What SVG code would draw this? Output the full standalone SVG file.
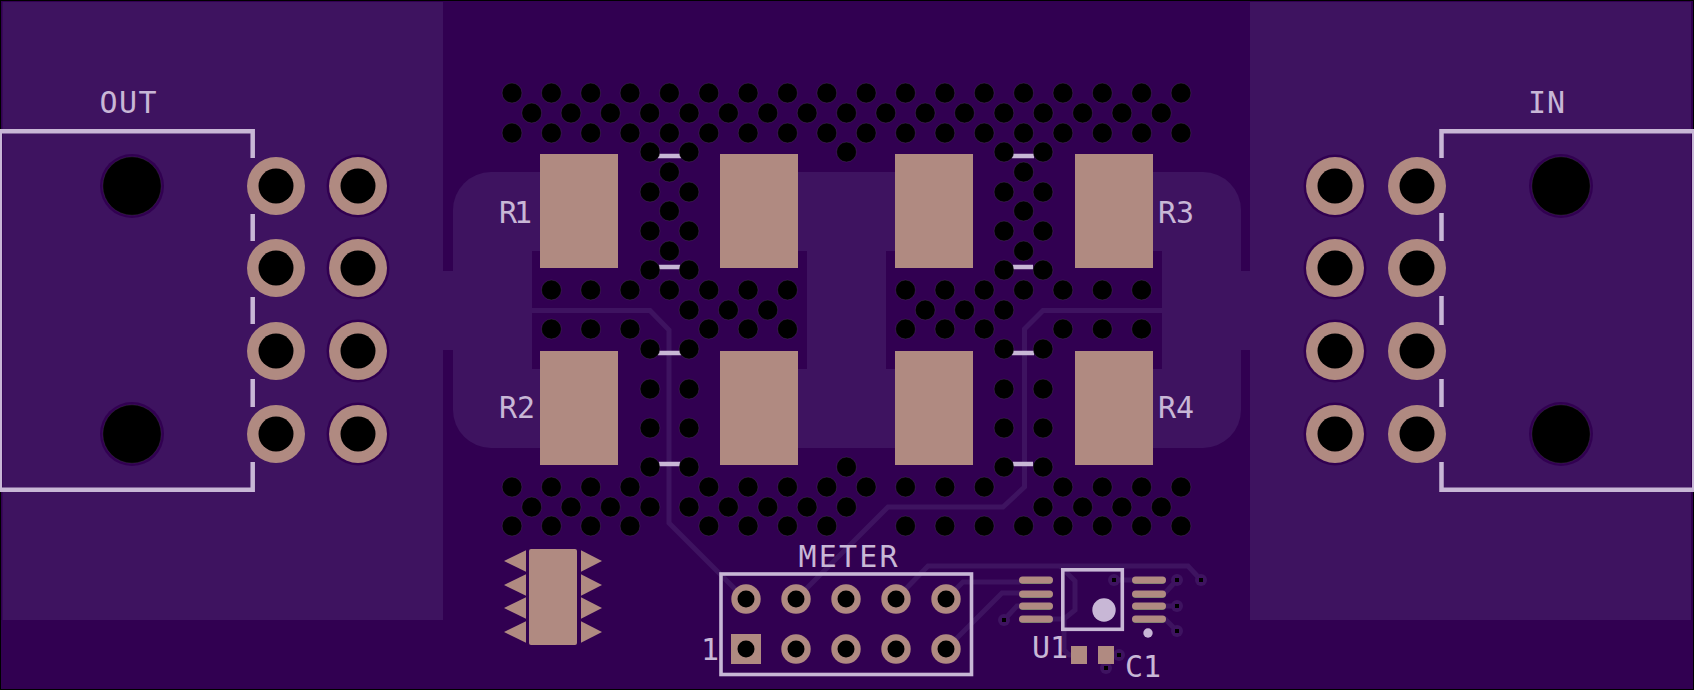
<svg xmlns="http://www.w3.org/2000/svg" width="1694" height="690" viewBox="0 0 1694 690">
<style>
.sub{fill:#310051}
.cu{fill:#3e1360}
.pad{fill:#b08a81}
.trk{fill:none;stroke:#3e1360;stroke-width:5;stroke-linejoin:miter}
.silk{fill:none;stroke:#c8b7d6;stroke-width:4.5;stroke-linecap:butt}
.fill{fill:#c8b7d6}
.hole{fill:#000}
.lbl{font-family:"DejaVu Sans Mono","Liberation Mono",monospace;font-size:30px;fill:#c8b7d6}
.vh{fill:#000;stroke:#6b5a74;stroke-width:.25}
</style>
<defs>
<circle id="v" class="vh" r="9.9"/>
<g id="tv"><circle class="cu" r="6"/><rect x="-2" y="-2" width="4" height="4" fill="#000"/></g>
<g id="th"><circle class="pad" r="29"/><circle class="hole" r="17.5"/></g>
<g id="tr"><circle class="sub" r="31.5"/><circle class="pad" r="29"/><circle class="hole" r="17.5"/></g>
<g id="mh"><circle class="sub" r="32"/><circle class="vh" r="29.2"/></g>
<g id="pin"><circle class="pad" r="14.7"/><circle class="hole" r="8.5"/></g>
<path id="tl" class="pad" d="M504 0L526 -10.7V10.7Z"/>
<path id="tri" class="pad" d="M602 0L581 -10.7V10.7Z"/>
<g id="sop"><rect x="0.5" y="-2.6" width="33" height="6.6" rx="3.2" fill="#5c7a62"/><rect x="0" y="-3.6" width="34" height="7.1" rx="3.5" class="pad"/></g>
</defs>

<g id="board">
<rect width="1694" height="690" fill="#000"/>
<rect x="1" y="1" width="1692" height="688" class="sub"/>
<rect x="2.5" y="2" width="440.5" height="618" class="cu"/>
<rect x="1250" y="2" width="441" height="618" class="cu"/>
<rect x="443" y="271" width="10" height="79" class="cu"/>
<rect x="1241" y="271" width="9" height="79" class="cu"/>
<rect x="453" y="172" width="788" height="276" rx="38" class="cu"/>
<rect x="618" y="172" width="102" height="276" class="sub"/>
<rect x="973" y="172" width="102" height="276" class="sub"/>
<rect x="532" y="251" width="275" height="118" class="sub"/>
<rect x="886" y="251" width="276" height="118" class="sub"/>
</g>

<g id="connectors">
<path class="trk" d="M532 310.5H650L669 330V523L745 599"/>
<path class="trk" d="M1162 310.5H1043L1024.5 329V487L1003 507H888L796 599"/>
<path class="trk" d="M896 599L928 566H1188L1201 580"/>
<path class="trk" d="M946 599L963 582H1020"/>
<path class="trk" d="M946 649L1002 593H1020"/>
<path class="trk" d="M1004 620L1017 606H1024"/>
<path class="trk" d="M1050 619H1064L1075 610V581L1060 566"/>
<path class="trk" d="M1064 619V650L1069 655H1075"/>
<path class="trk" d="M1114 580H1135"/>
<path class="trk" d="M1160 594H1164L1177 580"/>
<path class="trk" d="M1160 606H1177"/>
<path class="trk" d="M1160 619H1165L1177 631"/>
</g>

<g id="silk-lines">
<path class="silk" d="M658 156H681M659 267H680M658 353H681M659 464H680M1012 156H1034M1013 267H1033M1012 353H1034M1013 464H1033"/>
</g>

<g id="via-field">
<use href="#v" x="512" y="93"/><use href="#v" x="551.4" y="93"/><use href="#v" x="590.7" y="93"/><use href="#v" x="630" y="93"/><use href="#v" x="669.4" y="93"/><use href="#v" x="708.8" y="93"/><use href="#v" x="748.1" y="93"/><use href="#v" x="787.5" y="93"/><use href="#v" x="826.8" y="93"/><use href="#v" x="866.2" y="93"/><use href="#v" x="905.5" y="93"/><use href="#v" x="944.9" y="93"/><use href="#v" x="984.2" y="93"/><use href="#v" x="1023.6" y="93"/><use href="#v" x="1062.9" y="93"/><use href="#v" x="1102.3" y="93"/><use href="#v" x="1141.6" y="93"/><use href="#v" x="1181" y="93"/>
<use href="#v" x="531.7" y="113"/><use href="#v" x="571" y="113"/><use href="#v" x="610.4" y="113"/><use href="#v" x="649.7" y="113"/><use href="#v" x="689.1" y="113"/><use href="#v" x="728.4" y="113"/><use href="#v" x="767.8" y="113"/><use href="#v" x="807.1" y="113"/><use href="#v" x="846.5" y="113"/><use href="#v" x="885.8" y="113"/><use href="#v" x="925.2" y="113"/><use href="#v" x="964.5" y="113"/><use href="#v" x="1003.9" y="113"/><use href="#v" x="1043.2" y="113"/><use href="#v" x="1082.6" y="113"/><use href="#v" x="1121.9" y="113"/><use href="#v" x="1161.3" y="113"/>
<use href="#v" x="512" y="133"/><use href="#v" x="551.4" y="133"/><use href="#v" x="590.7" y="133"/><use href="#v" x="630" y="133"/><use href="#v" x="669.4" y="133"/><use href="#v" x="708.8" y="133"/><use href="#v" x="748.1" y="133"/><use href="#v" x="787.5" y="133"/><use href="#v" x="826.8" y="133"/><use href="#v" x="866.2" y="133"/><use href="#v" x="905.5" y="133"/><use href="#v" x="944.9" y="133"/><use href="#v" x="984.2" y="133"/><use href="#v" x="1023.6" y="133"/><use href="#v" x="1062.9" y="133"/><use href="#v" x="1102.3" y="133"/><use href="#v" x="1141.6" y="133"/><use href="#v" x="1181" y="133"/>
<use href="#v" x="650" y="152"/><use href="#v" x="689" y="152"/><use href="#v" x="846.5" y="152"/><use href="#v" x="1004" y="152"/><use href="#v" x="1043" y="152"/>
<use href="#v" x="669.4" y="172"/><use href="#v" x="1023.6" y="172"/>
<use href="#v" x="650" y="192"/><use href="#v" x="689" y="192"/><use href="#v" x="1004" y="192"/><use href="#v" x="1043" y="192"/>
<use href="#v" x="669.4" y="211"/><use href="#v" x="1023.6" y="211"/>
<use href="#v" x="650" y="231"/><use href="#v" x="689" y="231"/><use href="#v" x="1004" y="231"/><use href="#v" x="1043" y="231"/>
<use href="#v" x="669.4" y="251"/><use href="#v" x="1023.6" y="251"/>
<use href="#v" x="650" y="270"/><use href="#v" x="689" y="270"/><use href="#v" x="1004" y="270"/><use href="#v" x="1043" y="270"/>
<use href="#v" x="551.4" y="290"/><use href="#v" x="590.7" y="290"/><use href="#v" x="630" y="290"/><use href="#v" x="669.4" y="290"/><use href="#v" x="708.8" y="290"/><use href="#v" x="748.1" y="290"/><use href="#v" x="787.5" y="290"/><use href="#v" x="905.5" y="290"/><use href="#v" x="944.9" y="290"/><use href="#v" x="984.2" y="290"/><use href="#v" x="1023.6" y="290"/><use href="#v" x="1062.9" y="290"/><use href="#v" x="1102.3" y="290"/><use href="#v" x="1141.6" y="290"/>
<use href="#v" x="689" y="310"/><use href="#v" x="728.4" y="310"/><use href="#v" x="767.8" y="310"/><use href="#v" x="925.2" y="310"/><use href="#v" x="964.5" y="310"/><use href="#v" x="1003.9" y="310"/>
<use href="#v" x="551.4" y="329"/><use href="#v" x="590.7" y="329"/><use href="#v" x="630" y="329"/><use href="#v" x="708.8" y="329"/><use href="#v" x="748.1" y="329"/><use href="#v" x="787.5" y="329"/><use href="#v" x="905.5" y="329"/><use href="#v" x="944.9" y="329"/><use href="#v" x="984.2" y="329"/><use href="#v" x="1062.9" y="329"/><use href="#v" x="1102.3" y="329"/><use href="#v" x="1141.6" y="329"/>
<use href="#v" x="650" y="349"/><use href="#v" x="689" y="349"/><use href="#v" x="1004" y="349"/><use href="#v" x="1043" y="349"/>
<use href="#v" x="650" y="389"/><use href="#v" x="689" y="389"/><use href="#v" x="1004" y="389"/><use href="#v" x="1043" y="389"/>
<use href="#v" x="650" y="428"/><use href="#v" x="689" y="428"/><use href="#v" x="1004" y="428"/><use href="#v" x="1043" y="428"/>
<use href="#v" x="650" y="467"/><use href="#v" x="689" y="467"/><use href="#v" x="846.5" y="467"/><use href="#v" x="1004" y="467"/><use href="#v" x="1043" y="467"/>
<use href="#v" x="512" y="487"/><use href="#v" x="551.4" y="487"/><use href="#v" x="590.7" y="487"/><use href="#v" x="630" y="487"/><use href="#v" x="708.8" y="487"/><use href="#v" x="748.1" y="487"/><use href="#v" x="787.5" y="487"/><use href="#v" x="826.8" y="487"/><use href="#v" x="866.2" y="487"/><use href="#v" x="905.5" y="487"/><use href="#v" x="944.9" y="487"/><use href="#v" x="984.2" y="487"/><use href="#v" x="1062.9" y="487"/><use href="#v" x="1102.3" y="487"/><use href="#v" x="1141.6" y="487"/><use href="#v" x="1181" y="487"/>
<use href="#v" x="531.7" y="507"/><use href="#v" x="571" y="507"/><use href="#v" x="610.4" y="507"/><use href="#v" x="650" y="507"/><use href="#v" x="689" y="507"/><use href="#v" x="728.4" y="507"/><use href="#v" x="767.8" y="507"/><use href="#v" x="807.1" y="507"/><use href="#v" x="846.5" y="507"/><use href="#v" x="1043" y="507"/><use href="#v" x="1082.6" y="507"/><use href="#v" x="1121.9" y="507"/><use href="#v" x="1161.3" y="507"/>
<use href="#v" x="512" y="526"/><use href="#v" x="551.4" y="526"/><use href="#v" x="590.7" y="526"/><use href="#v" x="630" y="526"/><use href="#v" x="708.8" y="526"/><use href="#v" x="748.1" y="526"/><use href="#v" x="787.5" y="526"/><use href="#v" x="826.8" y="526"/><use href="#v" x="905.5" y="526"/><use href="#v" x="944.9" y="526"/><use href="#v" x="984.2" y="526"/><use href="#v" x="1023.6" y="526"/><use href="#v" x="1062.9" y="526"/><use href="#v" x="1102.3" y="526"/><use href="#v" x="1141.6" y="526"/><use href="#v" x="1181" y="526"/>
</g>

<g id="R1"><rect x="540" y="154" width="78" height="114" class="pad"/><rect x="720" y="154" width="78" height="114" class="pad"/><text class="lbl" x="499" y="223" textLength="33">R1</text></g>
<g id="R2"><rect x="540" y="351" width="78" height="114" class="pad"/><rect x="720" y="351" width="78" height="114" class="pad"/><text class="lbl" x="499" y="418">R2</text></g>
<g id="R3"><rect x="895" y="154" width="78" height="114" class="pad"/><rect x="1075" y="154" width="78" height="114" class="pad"/><text class="lbl" x="1158" y="223">R3</text></g>
<g id="R4"><rect x="895" y="351" width="78" height="114" class="pad"/><rect x="1075" y="351" width="78" height="114" class="pad"/><text class="lbl" x="1158" y="418">R4</text></g>

<g id="OUT">
<use href="#mh" x="132" y="186"/><use href="#mh" x="132" y="434"/>
<use href="#th" x="276" y="186"/><use href="#th" x="276" y="268"/><use href="#th" x="276" y="351"/><use href="#th" x="276" y="434"/>
<use href="#tr" x="358" y="186"/><use href="#tr" x="358" y="268"/><use href="#tr" x="358" y="351"/><use href="#tr" x="358" y="434"/>
<path class="silk" d="M0 131.3H252.7V158M252.7 214V241M252.7 297V324M252.7 379V407M252.7 462V489.7H0"/>
<rect x="0" y="129" width="2" height="363" class="fill"/>
<text class="lbl" x="99.5" y="113" textLength="57">OUT</text>
</g>

<g id="IN">
<use href="#mh" x="1561" y="186"/><use href="#mh" x="1561" y="434"/>
<use href="#tr" x="1335" y="186"/><use href="#tr" x="1335" y="268"/><use href="#tr" x="1335" y="351"/><use href="#tr" x="1335" y="434"/>
<use href="#th" x="1417" y="186"/><use href="#th" x="1417" y="268"/><use href="#th" x="1417" y="351"/><use href="#th" x="1417" y="434"/>
<path class="silk" d="M1693 131.3H1441.5V158M1441.5 213V241M1441.5 296V325M1441.5 379V407M1441.5 462V489.7H1693"/>
<rect x="1692" y="129" width="2" height="363" class="fill"/>
<text class="lbl" x="1528" y="113" textLength="37">IN</text>
</g>

<g id="IC">
<rect x="529" y="549" width="48" height="96" rx="2" class="pad"/>
<use href="#tl" y="561"/><use href="#tl" y="585"/><use href="#tl" y="608"/><use href="#tl" y="632"/>
<use href="#tri" y="561"/><use href="#tri" y="585"/><use href="#tri" y="608"/><use href="#tri" y="632"/>
</g>

<g id="METER">
<use href="#pin" x="746" y="599"/><use href="#pin" x="796" y="599"/><use href="#pin" x="846" y="599"/><use href="#pin" x="896" y="599"/><use href="#pin" x="946" y="599"/>
<rect x="731" y="634" width="30" height="30" class="pad"/><circle cx="746" cy="649" r="8.5" class="hole"/>
<use href="#pin" x="796" y="649"/><use href="#pin" x="846" y="649"/><use href="#pin" x="896" y="649"/><use href="#pin" x="946" y="649"/>
<rect x="721" y="574" width="250.5" height="100.5" class="silk" style="stroke-width:3.6"/>
<text class="lbl" x="798.5" y="567" textLength="99">METER</text>
<text class="lbl" x="701" y="660">1</text>
</g>

<g id="U1">
<use href="#sop" x="1019" y="580"/><use href="#sop" x="1019" y="594"/><use href="#sop" x="1019" y="606"/><use href="#sop" x="1019" y="619"/>
<use href="#sop" x="1132" y="580"/><use href="#sop" x="1132" y="594"/><use href="#sop" x="1132" y="606"/><use href="#sop" x="1132" y="619"/>
<use href="#tv" x="1004" y="620"/><use href="#tv" x="1114" y="580"/><use href="#tv" x="1177" y="580"/><use href="#tv" x="1177" y="606"/><use href="#tv" x="1177" y="631"/><use href="#tv" x="1201" y="580"/>
<rect x="1062.8" y="569.8" width="59.5" height="59.5" class="silk" style="stroke-width:3.6"/>
<circle cx="1104" cy="610" r="11.7" class="fill"/>
<circle cx="1148" cy="633" r="4.7" class="fill"/>
<text class="lbl" x="1032" y="658">U1</text>
</g>

<g id="C1">
<use href="#tv" x="1119" y="655"/><use href="#tv" x="1106" y="668"/>
<rect x="1071" y="646" width="16" height="18" class="pad"/>
<rect x="1098" y="646" width="16" height="18" class="pad"/>
<text class="lbl" x="1125" y="677">C1</text>
</g>
</svg>
